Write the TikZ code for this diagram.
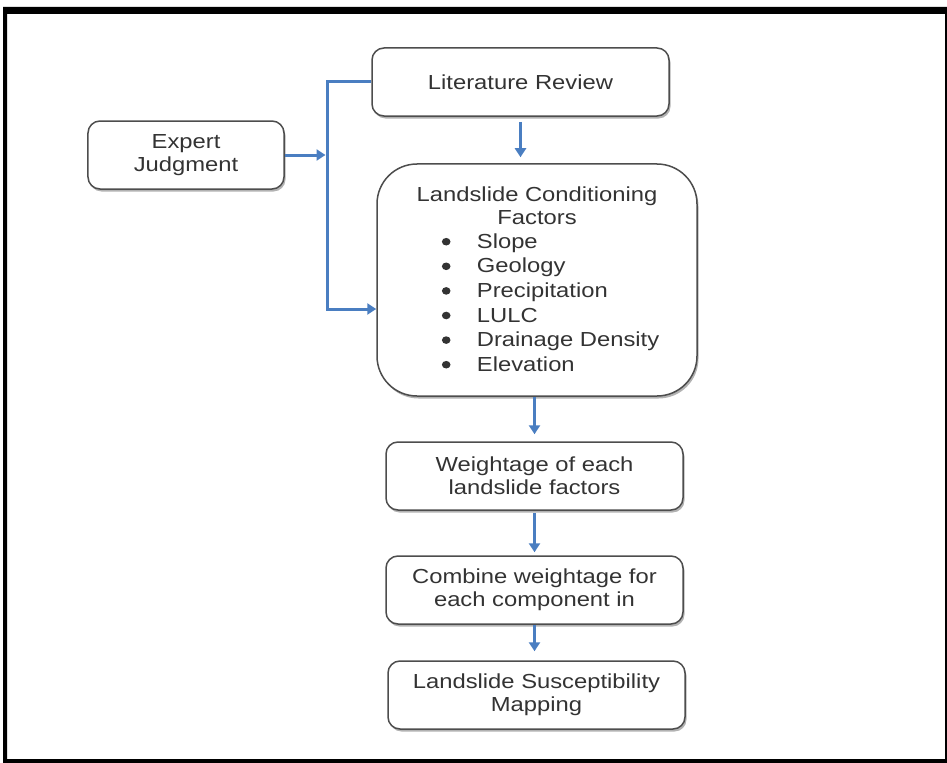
\documentclass[tikz,border=0pt]{standalone}
\usepackage{fontspec}
\setmainfont{Liberation Sans}[FakeStretch=1.17]
\usetikzlibrary{shadows,arrows.meta}
\definecolor{arrblue}{HTML}{4A7EC1}
\definecolor{boxgray}{HTML}{4D4D4D}
\definecolor{txtgray}{HTML}{333333}
\newcommand{\bigbul}{\raisebox{2.8bp}{\tikz\fill[txtgray] (0,0) ellipse (4.3bp and 3.8bp);}}
\begin{document}
\begin{tikzpicture}[x=1bp,y=-1bp,
  box/.style={draw=boxgray, line width=1.5bp, rounded corners=12bp, fill=white,
    drop shadow={shadow xshift=1.5bp, shadow yshift=-2.5bp, opacity=0.3, fill=black},
    align=center, font=\fontsize{20.4}{23}\selectfont, text=txtgray, inner sep=0pt},
  txt/.style={font=\fontsize{20.4}{23}\selectfont, text=txtgray, inner sep=0pt},
  flow/.style={draw=arrblue, line width=3bp, -{Triangle[length=9bp,width=11bp]}}]
  \useasboundingbox (0,0) rectangle (947,763);
  % frame
  \fill[black, even odd rule] (3,7) rectangle (947,763) (7,14) rectangle (945,759);
  % boxes
  \node[box, minimum width=297bp, minimum height=68bp] (lit) at (520.5,82) {Literature Review};
  \node[box, minimum width=196bp, minimum height=68bp] (exp) at (186,155) {Expert\\Judgment};
  \node[box, rounded corners=40bp, minimum width=320bp, minimum height=232bp] (lcf) at (537,280) {};
  \node[txt, align=center, anchor=base] (lcfhead) at (537,224) {Landslide Conditioning\\Factors};
  \foreach \t [count=\i] in {Slope,Geology,Precipitation,LULC,Drainage Density,Elevation}
    \node[txt, anchor=base west] (f\i) at (441.7,{248.3+24.6*(\i-1)}) {\makebox[35bp][l]{\bigbul}\t};
  \node[box, minimum width=297bp, minimum height=68bp] (wt) at (534.5,476) {Weightage of each\\landslide factors};
  \node[box, minimum width=297bp, minimum height=68bp] (cmb) at (534.5,590) {Combine weightage for\\each component in};
  \node[box, minimum width=297bp, minimum height=68bp] (lsm) at (536.5,695) {Landslide Susceptibility\\Mapping};
  % connectors
  \coordinate (jtop) at (327,82);
  \coordinate (jmid) at (327,155);
  \coordinate (jbot) at (327,309);
  \draw[flow, shorten >=1.5bp] (exp.east |- jmid) -- (jmid);
  \draw[flow, line join=miter] (lit.west) -- (jtop) -- (jbot) -- (lcf.west |- jbot);
  \draw[flow, shorten <=5bp, shorten >=6bp] (lit.south) -- (lit.south |- lcf.north);
  \draw[flow, shorten >=7bp] (lcf.south -| wt.north) -- (wt.north);
  \draw[flow, shorten <=2bp, shorten >=3bp] (wt.south) -- (cmb.north);
  \draw[flow, shorten >=9bp] (cmb.south) -- (cmb.south |- lsm.north);
\end{tikzpicture}
\end{document}
